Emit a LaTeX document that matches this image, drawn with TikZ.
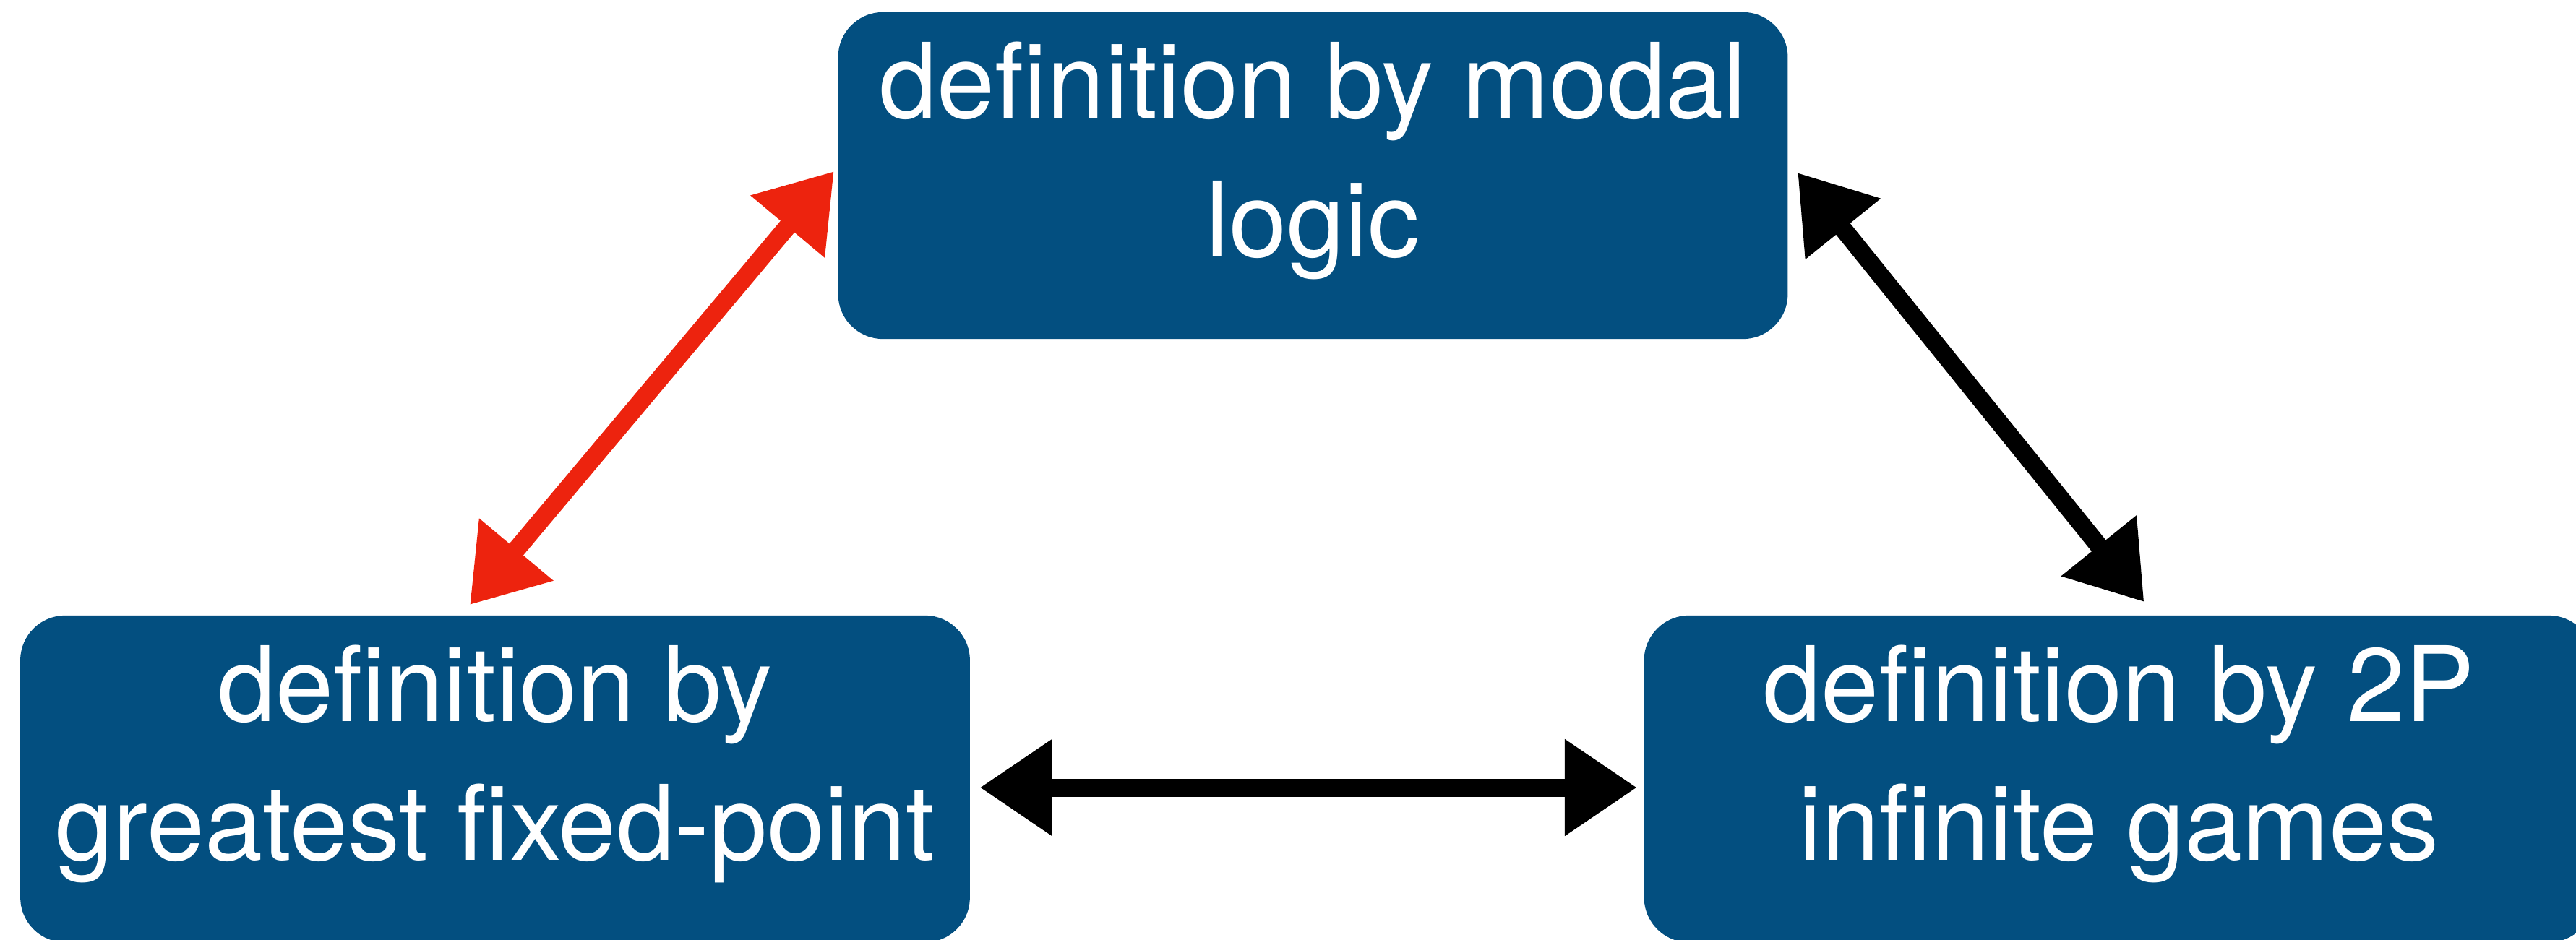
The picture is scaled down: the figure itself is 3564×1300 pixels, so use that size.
\documentclass[tikz,border=0pt]{standalone}
\usepackage{fontspec}
\setmainfont{TeX Gyre Heros}
\usetikzlibrary{arrows.meta}
\definecolor{boxblue}{RGB}{3,79,128}
\definecolor{sketchred}{RGB}{237,35,14}
\newcommand\mytopstrut{\rule{0pt}{1.2cm}}
\newcommand\mybotstrut{\rule[-0.88cm]{0pt}{0.88cm}}
\begin{document}
\begin{tikzpicture}[x=0.01cm,y=-0.01cm,
  defbox/.style={fill=boxblue, rounded corners=0.62cm, inner sep=0pt,
    minimum width=13.13cm, minimum height=4.52cm, align=center,
    text=white, font=\fontsize{41}{54.6}\selectfont},
  sketch/.style={line width=0.25cm, {Triangle[length=1.0cm,width=1.27cm]}-{Triangle[length=1.0cm,width=1.27cm]}}]
\useasboundingbox (0,0) rectangle (3564,1300);
\clip (0,0) rectangle (3564,1300);
\fill[white] (0,0) rectangle (3564,1300);
\node[defbox] (top) at (1816.5,243) {\mytopstrut definition by modal\\logic\mybotstrut};
\node[defbox] (bl) at (685,1078) {\mytopstrut definition by\\greatest fixed-point\mybotstrut};
\node[defbox] (br) at (2931.5,1078) {\mytopstrut definition by 2P\\infinite games\mybotstrut};
\draw[sketch, sketchred] ([shift={(-5,-6)}]top.west) -- ([shift={(-35,-14)}]bl.north);
\draw[sketch, black] ([shift={(13,-4)}]top.east) -- ([shift={(35,-18)}]br.north);
\draw[sketch, black] ([shift={(13,12)}]bl.east) -- ([shift={(-9,12)}]br.west);
\end{tikzpicture}
\end{document}
